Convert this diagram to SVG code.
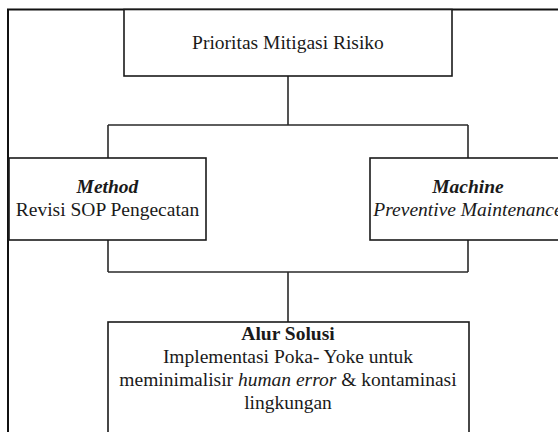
<svg xmlns="http://www.w3.org/2000/svg" width="558" height="432" viewBox="0 0 558 432">
<style>
.box{fill:#fff;stroke:#1a1a1a;stroke-width:1.6}
.frame{fill:none;stroke:#111;stroke-width:2}
.conn{fill:none;stroke:#2a2a2a;stroke-width:1.6}
.t{font-family:'Liberation Serif','Times New Roman','DejaVu Serif',serif;font-size:19.5px;fill:#1a1a1a;text-anchor:middle}
.b{font-weight:bold}
.i{font-style:italic}
</style>
<rect class="frame" x="8" y="9.5" width="560" height="440"/>
<g id="connectors">
<path class="conn" d="M288 76V125M108 125H468M108 125V158M468 125V158M108 240V272M468 240V272M108 272H468M288 272V322"/>
</g>
<g id="prioritas">
<rect class="box" x="124" y="9.5" width="328" height="66.5"/>
<text class="t" x="288" y="49" font-family="Liberation Serif, serif">Prioritas Mitigasi Risiko</text>
</g>
<g id="method">
<rect class="box" x="9" y="158" width="197" height="82"/>
<text x="107.5" y="193" class="t b i" font-family="Liberation Serif, serif">Method</text>
<text x="107.5" y="216" class="t" font-family="Liberation Serif, serif">Revisi SOP Pengecatan</text>
</g>
<g id="machine">
<rect class="box" x="370" y="158" width="197" height="82"/>
<text x="468" y="193" class="t b i" font-family="Liberation Serif, serif">Machine</text>
<text x="468" y="216" class="t i" font-family="Liberation Serif, serif">Preventive Maintenance</text>
</g>
<g id="alur-solusi">
<rect class="box" x="108" y="322" width="361" height="130"/>
<text x="288" y="340" class="t b" font-family="Liberation Serif, serif">Alur Solusi</text>
<text x="288" y="363" class="t" font-family="Liberation Serif, serif">Implementasi Poka- Yoke untuk</text>
<text x="288" y="386" class="t" font-family="Liberation Serif, serif">meminimalisir <tspan class="i">human error</tspan> &amp; kontaminasi</text>
<text x="288" y="409" class="t" font-family="Liberation Serif, serif">lingkungan</text>
</g>
</svg>
